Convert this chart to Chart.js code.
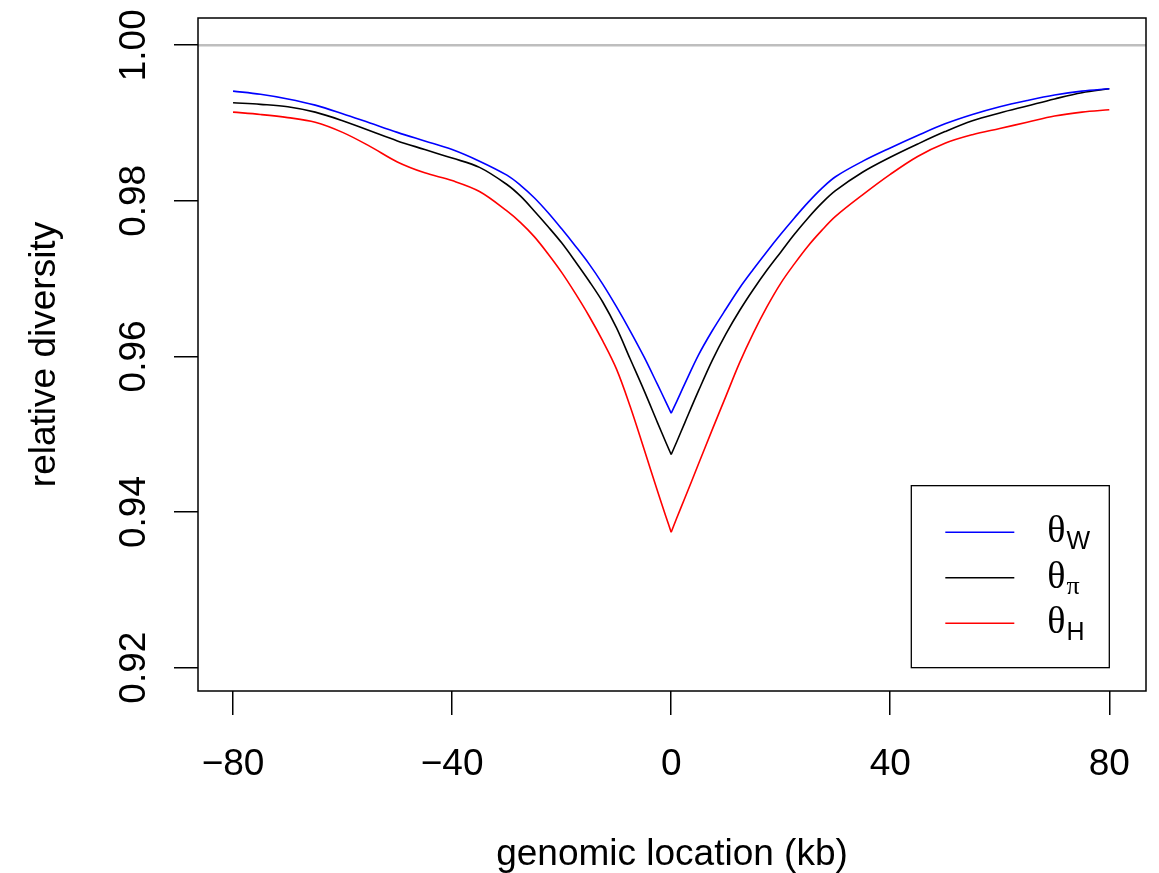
<!DOCTYPE html>
<html>
<head>
<meta charset="utf-8">
<script src="https://cdn.jsdelivr.net/npm/chart.js@4/dist/chart.umd.min.js"></script>
<style>
  html, body { margin: 0; padding: 0; background: #fff; }
  #wrap { width: 1159px; height: 873px; position: relative; }
</style>
</head>
<body>
<div id="wrap"><canvas id="grafik"></canvas></div>
<script>
// genomic position (kb) of each sample point
const positions = [-80, -75, -70, -65, -60, -55, -50, -45, -40, -35, -30, -27.5, -25, -22.5, -20, -17.5, -15, -12.5, -10, -7.5, -5, -2.5, -1,
  0, 1, 2.5, 5, 7.5, 10, 12.5, 15, 17.5, 20, 22.5, 25, 27.5, 30, 35, 40, 45, 50, 55, 60, 65, 70, 75, 80];

// relative diversity, one array per estimator
const thetaW = [0.9941, 0.9937, 0.9931, 0.9923, 0.9912, 0.9900, 0.9888, 0.9877, 0.9866, 0.9851, 0.9833, 0.9820, 0.9804, 0.9785, 0.9764, 0.9742, 0.9719, 0.9693, 0.9664, 0.9633, 0.9600, 0.9564, 0.9542,
  0.9527, 0.9542, 0.9565, 0.9602, 0.9633, 0.9661, 0.9688, 0.9712, 0.9735, 0.9757, 0.9778, 0.9798, 0.9816, 0.9831, 0.9851, 0.9868, 0.9884, 0.9899, 0.9911, 0.9921, 0.9929, 0.9936, 0.9941, 0.9944];
const thetaPi = [0.9926, 0.9924, 0.9921, 0.9914, 0.9903, 0.9890, 0.9877, 0.9866, 0.9855, 0.9843, 0.9821, 0.9806, 0.9787, 0.9767, 0.9746, 0.9722, 0.9697, 0.9670, 0.9637, 0.9597, 0.9557, 0.9515, 0.9490,
  0.9474, 0.9490, 0.9515, 0.9556, 0.9595, 0.9629, 0.9659, 0.9686, 0.9711, 0.9734, 0.9757, 0.9778, 0.9797, 0.9813, 0.9837, 0.9856, 0.9873, 0.9889, 0.9903, 0.9913, 0.9922, 0.9931, 0.9939, 0.9944];
const thetaH = [0.9914, 0.9911, 0.9907, 0.9901, 0.9888, 0.9870, 0.9850, 0.9836, 0.9826, 0.9812, 0.9787, 0.9772, 0.9754, 0.9732, 0.9708, 0.9681, 0.9652, 0.9620, 0.9584, 0.9536, 0.9482, 0.9427, 0.9395,
  0.9374, 0.9392, 0.9418, 0.9462, 0.9506, 0.9549, 0.9592, 0.9630, 0.9664, 0.9694, 0.9719, 0.9742, 0.9762, 0.9780, 0.9808, 0.9834, 0.9857, 0.9874, 0.9885, 0.9893, 0.9901, 0.9909, 0.9914, 0.9917];

const xTicks = [-80, -40, 0, 40, 80];
const yTicks = [0.92, 0.94, 0.96, 0.98, 1.00];
const seriesSubs = ["W", "\u03c0", "H"];
const seriesColors = ["#0000ff", "#000000", "#ff0000"];
const refLevel = 1.0;

const SANS = "'Liberation Sans', Arimo, Helvetica, Arial, sans-serif";
const SERIF = "'Liberation Serif', 'DejaVu Serif', serif";

// each curve is drawn as two halves that meet at 0 so the dip stays a sharp point
function half(vals, side) {
  return positions
    .map((p, i) => ({ x: p, y: vals[i] }))
    .filter(pt => (side < 0 ? pt.x <= 0 : pt.x >= 0));
}

const series = [thetaW, thetaPi, thetaH];
const datasets = [];
series.forEach((vals, i) => {
  datasets.push({ label: "\u03b8" + seriesSubs[i], data: half(vals, -1), borderColor: seriesColors[i] });
  datasets.push({ label: "\u03b8" + seriesSubs[i], data: half(vals, 1), borderColor: seriesColors[i] });
});

// grey line at 1, the frame round the plot and the legend box
const extras = {
  id: "extras",
  beforeDatasetsDraw(chart) {
    const { ctx, chartArea: a, scales } = chart;
    const py = scales.y.getPixelForValue(refLevel);
    ctx.save();
    ctx.strokeStyle = "#bebebe";
    ctx.lineWidth = 2.5;
    ctx.beginPath();
    ctx.moveTo(a.left, py);
    ctx.lineTo(a.right, py);
    ctx.stroke();
    ctx.restore();
  },
  afterDraw(chart) {
    const { ctx, chartArea: a, scales } = chart;
    ctx.save();
    ctx.strokeStyle = "#000";
    ctx.lineWidth = 1.5;
    ctx.strokeRect(a.left, a.top, a.right - a.left, a.bottom - a.top);

    // legend sits in the bottom right corner of the data range
    const w = 198, h = 182;
    const lx = scales.x.getPixelForValue(xTicks[xTicks.length - 1]) - w;
    const ly = scales.y.getPixelForValue(yTicks[0]) - h;
    ctx.fillStyle = "#fff";
    ctx.fillRect(lx, ly, w, h);
    ctx.lineWidth = 1.3;
    ctx.strokeRect(lx, ly, w, h);

    seriesColors.forEach((col, i) => {
      const ry = ly + 46.5 + i * 45.5;
      ctx.strokeStyle = col;
      ctx.lineWidth = 1.5;
      ctx.beginPath();
      ctx.moveTo(lx + 34, ry);
      ctx.lineTo(lx + 103, ry);
      ctx.stroke();

      ctx.fillStyle = "#000";
      ctx.textAlign = "left";
      ctx.textBaseline = "alphabetic";
      ctx.font = "38px " + SERIF;
      ctx.fillText("\u03b8", lx + 136, ry + 10);
      const tw = ctx.measureText("\u03b8").width;
      ctx.font = (seriesSubs[i] === "\u03c0" ? "26px " + SERIF : "25px " + SANS);
      ctx.fillText(seriesSubs[i], lx + 136 + tw + 1, ry + 16.5);
    });
    ctx.restore();
  }
};

const ctx = document.getElementById("grafik").getContext("2d");
new Chart(ctx, {
  type: "line",
  data: { datasets: datasets },
  options: {
    responsive: true,
    maintainAspectRatio: false,
    animation: false,
    devicePixelRatio: 1,
    layout: { padding: { top: 18, right: 13, left: 0, bottom: 0 } },
    elements: {
      point: { radius: 0 },
      line: { borderWidth: 1.6, tension: 0.35, fill: false }
    },
    plugins: {
      legend: { display: false },
      tooltip: { enabled: false }
    },
    scales: {
      x: {
        type: "linear",
        min: -86.4,
        max: 86.7,
        afterBuildTicks: (s) => { s.ticks = xTicks.map(v => ({ value: v })); },
        afterFit: (s) => { s.height = 182; s.paddingLeft = 0; s.paddingRight = 0; },
        ticks: {
          autoSkip: false,
          maxRotation: 0,
          padding: 28,
          color: "#000",
          font: { size: 37, family: SANS },
          callback: (v) => (v < 0 ? "\u2212" + Math.abs(v) : String(v))
        },
        grid: { drawOnChartArea: false, drawTicks: true, tickLength: 24, color: "#000", lineWidth: 1.5 },
        border: { display: false },
        title: {
          display: true,
          text: "genomic location (kb)",
          color: "#000",
          padding: 0,
          font: { size: 37, family: SANS, lineHeight: 1 }
        }
      },
      y: {
        type: "linear",
        min: 0.9170,
        max: 1.0035,
        afterBuildTicks: (s) => { s.ticks = yTicks.map(v => ({ value: v })); },
        afterFit: (s) => { s.width = 198; s.paddingTop = 0; s.paddingBottom = 0; },
        ticks: {
          autoSkip: false,
          minRotation: 90,
          maxRotation: 90,
          crossAlign: "center",
          padding: 3,
          color: "#000",
          font: { size: 37, family: SANS },
          callback: (v) => v.toFixed(2)
        },
        grid: { drawOnChartArea: false, drawTicks: true, tickLength: 24, color: "#000", lineWidth: 1.5 },
        border: { display: false },
        title: {
          display: true,
          text: "relative diversity",
          color: "#000",
          padding: { top: 26, bottom: 0 },
          font: { size: 37, family: SANS, lineHeight: 1 }
        }
      }
    }
  },
  plugins: [extras]
});
</script>
</body>
</html>
